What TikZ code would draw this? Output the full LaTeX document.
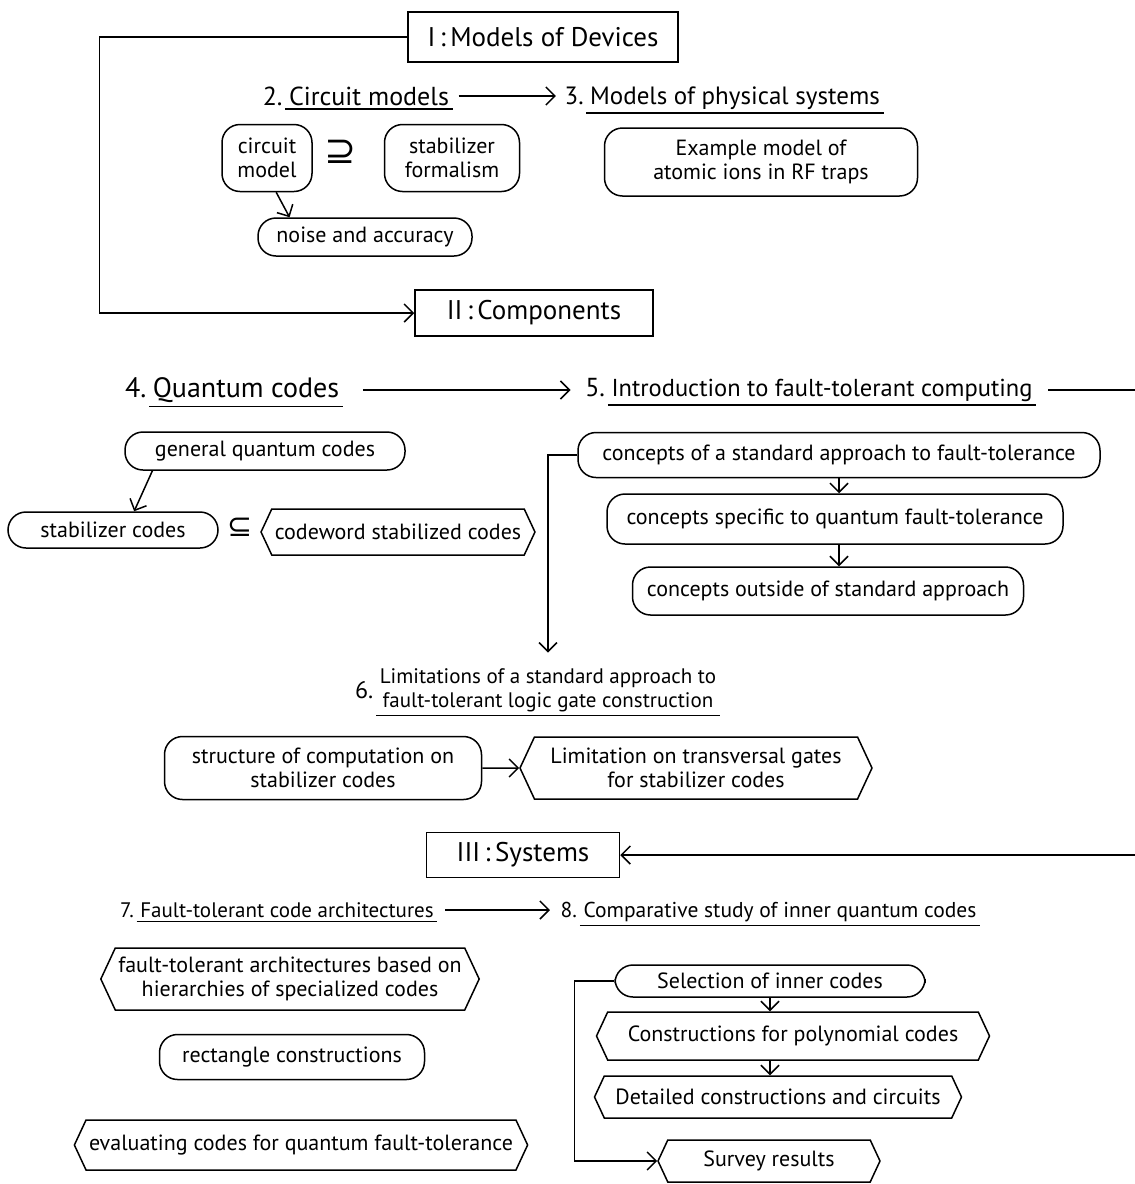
\documentclass[tikz,border=0pt]{standalone}
\usepackage{fontspec}
\setmainfont{PT Sans}
\newfontfamily\symfont{DejaVu Sans}
\usetikzlibrary{positioning,calc,shapes.symbols,arrows.meta}

\begin{document}
\begin{tikzpicture}[x=1pt,y=-1pt,line width=1.5pt,
    blob/.style={draw,rounded corners=18pt,align=center,inner sep=4pt,font=\fontsize{22}{24}\selectfont},
    hexa/.style={draw,signal,signal to=west and east,signal pointer angle=130,align=center,inner sep=3pt,font=\fontsize{22}{24}\selectfont},
    hbox/.style={draw,inner sep=6pt,font=\fontsize{27}{30}\selectfont},
    ttl/.style={inner sep=3pt,align=center,font=\fontsize{#1}{24}\selectfont},
    num/.style={anchor=base east,inner sep=2pt,font=\fontsize{#1}{24}\selectfont},
    sym/.style={inner sep=0pt,font=\symfont\fontsize{#1}{#1}\selectfont},
    arr/.style={-{Straight Barb[length=9pt,width=18pt]}}]
\useasboundingbox (0,0) rectangle (1135,1184);

% part I
\node[hbox,minimum width=270pt,minimum height=50pt] (dev) at (543,37) {I\,:\,Models of Devices};
\node[ttl=26] (h2) at (369,96) {Circuit models};
\node[num=26] (n2) at (h2.base west) {2.};
\node[ttl=25] (h3) at (735,98) {Models of physical systems};
\node[num=25] (n3) at (h3.base west) {3.};
\node[blob,minimum width=90pt,minimum height=67pt] (cm) at (267,158) {circuit\\model};
\node[sym=38] (sup) at (340,152) {⊇};
\node[blob,minimum width=135pt,minimum height=67pt] (sf) at (452,158) {stabilizer\\formalism};
\node[blob,minimum width=214pt,minimum height=38pt] (noise) at (365,237) {noise and accuracy};
\node[blob,minimum width=313pt,minimum height=68pt] (ex) at (761,162) {Example model of\\atomic ions in RF traps};
\node[hbox,minimum width=238pt,minimum height=46pt] (comp) at (534,313) {II\,:\,Components};

% part II
\node[ttl=28] (h4) at (246,390) {Quantum codes};
\node[num=28] (n4) at (h4.base west) {4.};
\node[ttl=24.5] (h5) at (822,390) {Introduction to fault-tolerant computing};
\node[num=26] (n5) at (h5.base west) {5.};
\node[blob,minimum width=280pt,minimum height=38pt] (gq) at (265,451) {general quantum codes};
\node[blob,minimum width=210pt,minimum height=36pt] (sc) at (113,530) {stabilizer codes};
\node[sym=30] (sub) at (240,527) {⊆};
\node[hexa,minimum width=273pt,minimum height=46pt] (cws) at (398,532) {codeword stabilized codes};
\node[blob,minimum width=522pt,minimum height=45pt] (cstd) at (839,455) {concepts of a standard approach to fault-tolerance};
\node[blob,minimum width=456pt,minimum height=50pt] (cspec) at (835,519) {concepts specific to quantum fault-tolerance};
\node[blob,minimum width=391pt,minimum height=48pt] (cout) at (828,591) {concepts outside of standard approach};
\node[ttl=21] (h6) at (548,690) {Limitations of a standard approach to\\fault-tolerant logic gate construction};
\node[num=24,anchor=east] (n6) at (h6.west) {6.};
\node[blob,minimum width=317pt,minimum height=63pt] (struct) at (323,768) {structure of computation on\\stabilizer codes};
\node[hexa,minimum width=352pt,minimum height=62pt] (limit) at (696,768) {Limitation on transversal gates\\for stabilizer codes};

% part III
\node[hbox,minimum width=193pt,minimum height=45pt] (sys) at (523,855) {III\,:\,Systems};
\node[ttl=21] (h7) at (287,910) {Fault-tolerant code architectures};
\node[num=21] (n7) at (h7.base west) {7.};
\node[ttl=21.5] (h8) at (780,912) {Comparative study of inner quantum codes};
\node[num=21.5] (n8) at (h8.base west) {8.};
\node[hexa,minimum width=370pt,minimum height=62pt] (arch) at (290,979) {fault-tolerant architectures based on\\hierarchies of specialized codes};
\node[blob,minimum width=265pt,minimum height=45pt] (rect) at (292,1057) {rectangle constructions};
\node[hexa,minimum width=438pt,minimum height=50pt] (eval) at (301,1145) {evaluating codes for quantum fault-tolerance};
\node[blob,minimum width=310pt,minimum height=32pt] (sel) at (770,981) {Selection of inner codes};
\node[hexa,minimum width=393pt,minimum height=48pt] (cpoly) at (793,1036) {Constructions for polynomial codes};
\node[hexa,minimum width=367pt,minimum height=42pt] (detail) at (778,1097) {Detailed constructions and circuits};
\node[hexa,minimum width=222pt,minimum height=42pt] (survey) at (769,1161) {Survey results};

\coordinate (r5) at (1135,389);
\coordinate (r3) at (1135,855);

\foreach \h in {h2,h3,h4,h5,h6,h7,h8}
    \draw (\h.south west) -- (\h.south east);

% connectors
\draw[arr] (dev.west) -- ++(-308,0) |- (comp.west);
\draw[arr,shorten <=6pt,shorten >=6pt] (h2.east) -- (h2.east -| n3.west);
\draw[arr] (cm.-75) -- ($(noise.north west)!0.15!(noise.north east)$);
\draw[arr,shorten <=20pt,shorten >=12pt] (h4.east) -- (h4.east -| n5.west);
\draw[shorten <=12pt] (h5.east) -- (h5.east -| r5);
\draw[arr] ($(gq.south west)!0.1!(gq.south east)$) -- ($(sc.north west)!0.6!(sc.north east)$);
\draw[arr] (cstd.south) -- (cstd.south |- cspec.north);
\draw[arr] (cstd.south |- cspec.south) -- (cstd.south |- cout.north);
\draw[arr,shorten >=12pt] (cstd.west) -| (h6.north);
\draw[arr] (struct) -- (limit);
\draw[arr] (r3) -- (sys.east -| r3) -- (sys.east);
\draw[arr,shorten <=8pt,shorten >=8pt] (h7.east) -- (h7.east -| n8.west);
\draw[arr] (sel.south) -- (sel.south |- cpoly.north);
\draw[arr] (sel.south |- cpoly.south) -- (sel.south |- detail.north);
\draw[arr] (sel.west) -- ++(-40,0) |- (survey.west);
\end{tikzpicture}
\end{document}
